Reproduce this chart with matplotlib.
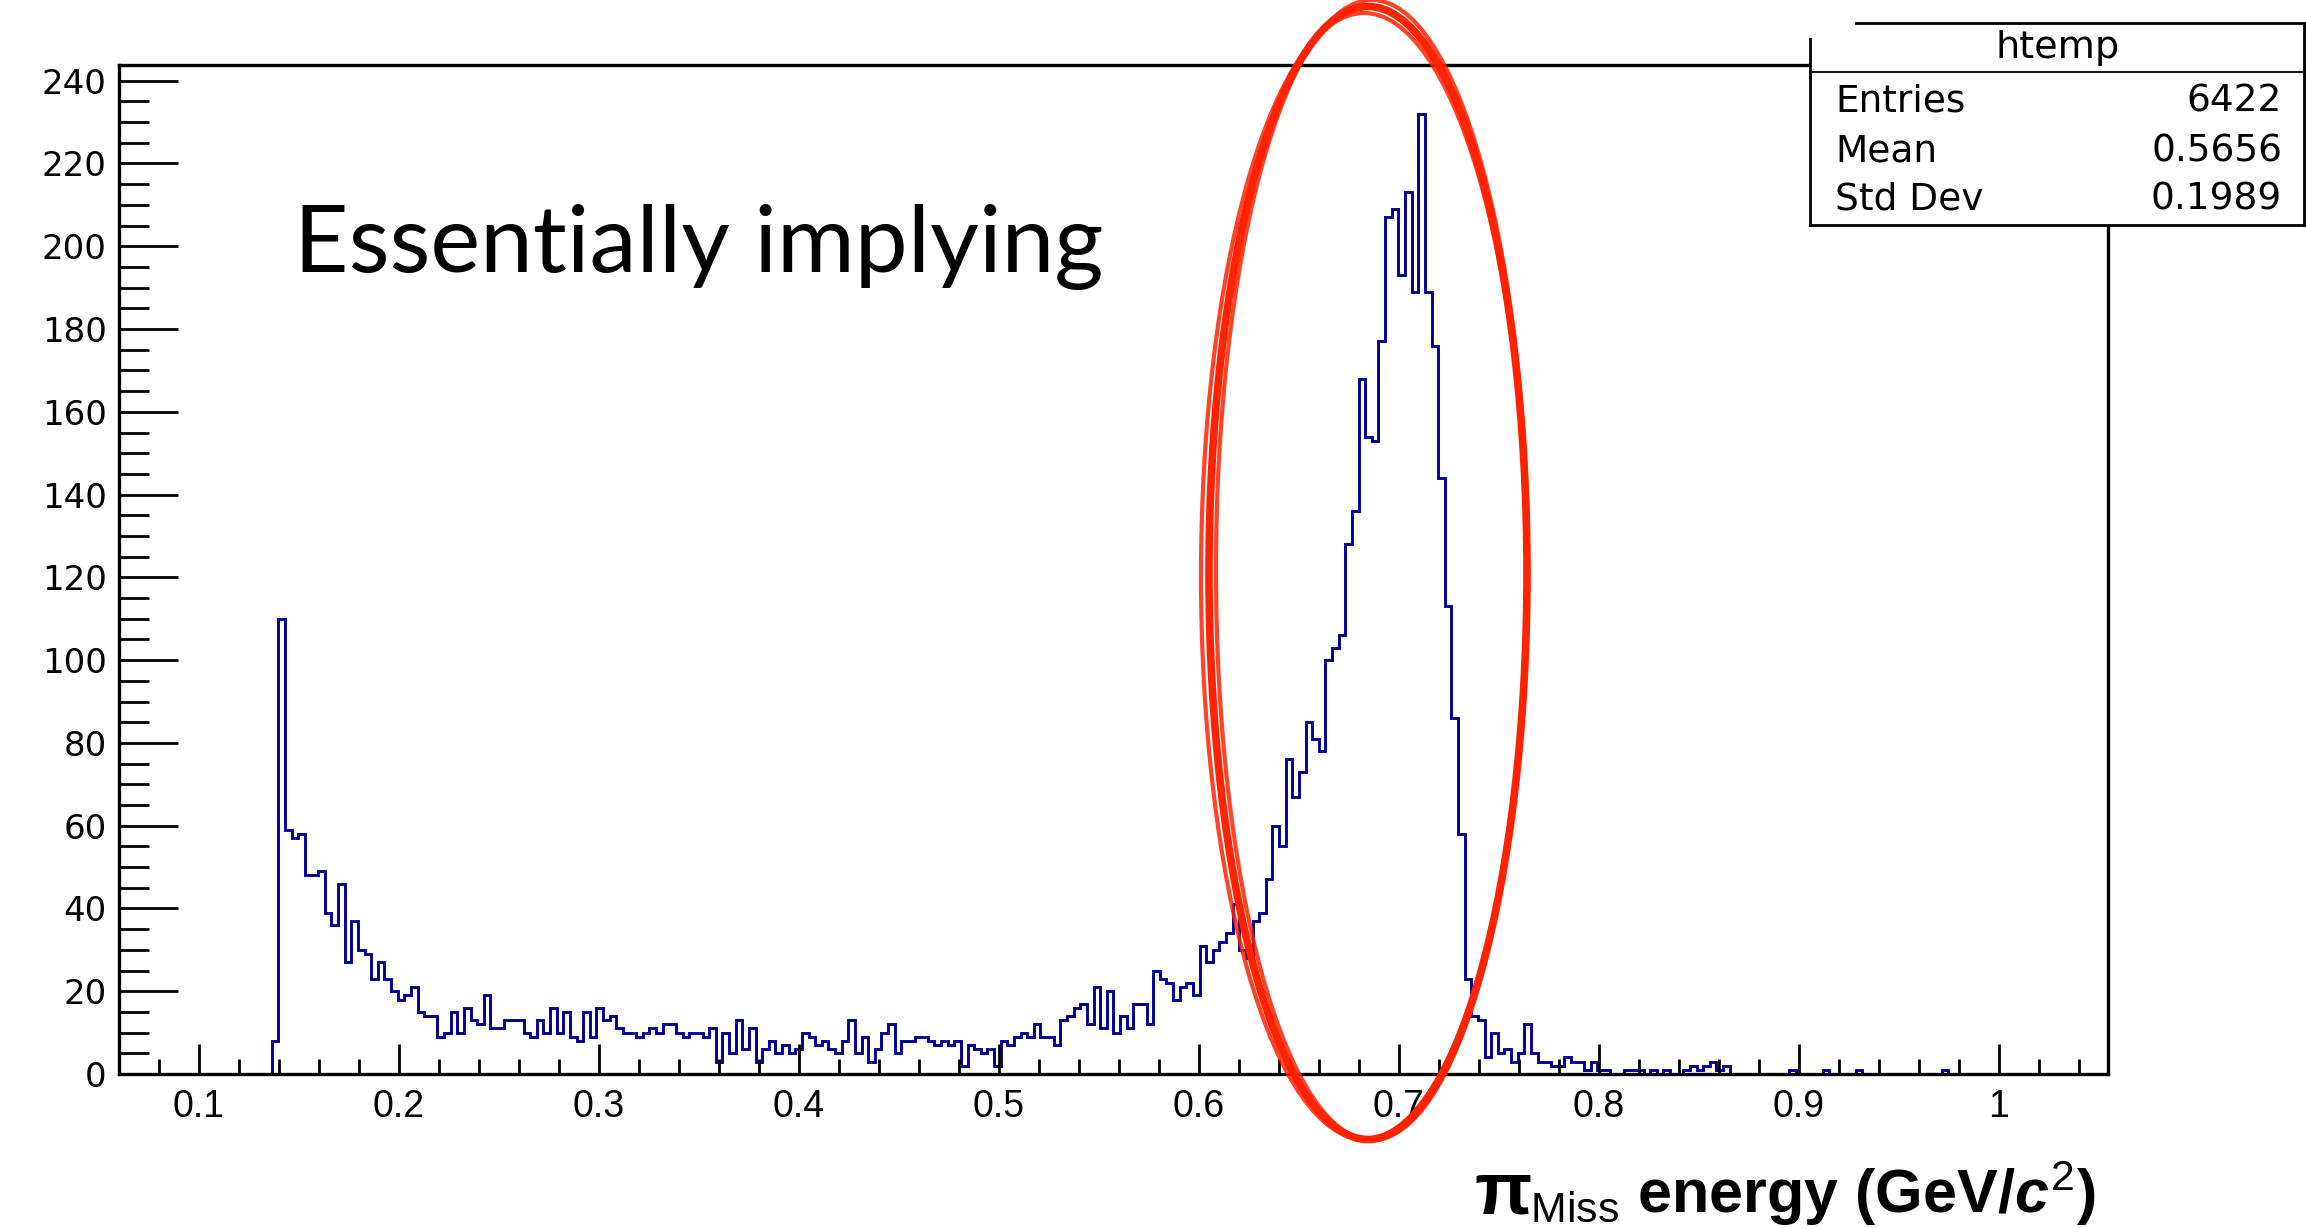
import numpy as np
import matplotlib.pyplot as plt
from matplotlib.patches import Ellipse, Polygon
from matplotlib.ticker import MultipleLocator, FixedLocator, FixedFormatter

W, H = 2306, 1228

# ROOT htemp binning: 300 bins over the axis range
x_lo, x_hi, n_bins = 0.0603, 1.0544, 300
first_bin = 23
# bin contents, starting at first_bin
counts = [8, 110, 59, 57, 58, 48, 48, 49, 39, 36,
          46, 27, 37, 30, 29, 23, 27, 23, 20, 18,
          19, 21, 15, 14, 14, 9, 10, 15, 10, 16,
          13, 12, 19, 11, 11, 13, 13, 13, 10, 9,
          13, 10, 16, 10, 15, 9, 8, 15, 9, 16,
          13, 14, 11, 10, 10, 9, 10, 11, 10, 12,
          12, 10, 9, 10, 10, 9, 11, 3, 10, 5,
          13, 6, 11, 3, 6, 8, 5, 7, 5, 6,
          10, 9, 7, 8, 6, 5, 8, 13, 5, 9,
          3, 6, 10, 12, 5, 8, 8, 9, 9, 8,
          7, 8, 7, 8, 2, 7, 6, 5, 6, 2,
          8, 7, 9, 10, 9, 12, 9, 9, 7, 13,
          14, 16, 17, 12, 21, 11, 20, 10, 14, 11,
          17, 17, 12, 25, 23, 22, 18, 21, 22, 19,
          31, 27, 30, 32, 34, 41, 30, 28, 37, 39,
          47, 60, 55, 76, 67, 73, 85, 81, 78, 100,
          103, 106, 128, 136, 168, 154, 153, 177, 207, 209,
          193, 213, 189, 232, 189, 176, 144, 113, 86, 58,
          23, 14, 13, 4, 10, 5, 6, 3, 5, 12,
          5, 3, 3, 2, 2, 4, 3, 3, 1, 3,
          1, 1, 0, 0, 1, 1, 1, 0, 1, 0,
          1, 0, 0, 1, 2, 1, 2, 3, 1, 2,
          0, 0, 0, 0, 0, 0, 0, 0, 0, 1,
          0, 0, 0, 0, 1, 0, 0, 0, 0, 1,
          0, 0, 0, 0, 0, 0, 0, 0, 0, 0,
          0, 0, 1]

x_ticks = [0.1, 0.2, 0.3, 0.4, 0.5, 0.6, 0.7, 0.8, 0.9, 1.0]
x_ticklabels = ['0.1', '0.2', '0.3', '0.4', '0.5', '0.6', '0.7', '0.8', '0.9', '1']
y_ticks = [0, 20, 40, 60, 80, 100, 120, 140, 160, 180, 200, 220, 240]
y_top = 243.8

stat_title = 'htemp'
stat_names = ['Entries', 'Mean', 'Std Dev']
stat_values = ['6422', '0.5656', '0.1989']

plt.rcParams['mathtext.fontset'] = 'custom'
plt.rcParams['mathtext.rm'] = 'Liberation Sans'
plt.rcParams['mathtext.it'] = 'Liberation Sans:italic:bold'
plt.rcParams['mathtext.bf'] = 'Liberation Sans:bold'

fig = plt.figure(figsize=(W / 100, H / 100), dpi=100)
fig.patch.set_facecolor('white')

# frame in pixels: left 119, right 2107, top 65, bottom 1074
ax = fig.add_axes([119.3 / W, 1 - 1074 / H, (2107.5 - 119.3) / W, (1074 - 65) / H])

hist = np.zeros(n_bins)
hist[first_bin:first_bin + len(counts)] = counts
edges = np.linspace(x_lo, x_hi, n_bins + 1)
ax.stairs(hist, edges, color='#000099', linewidth=2.1)

ax.set_xlim(x_lo, x_hi)
ax.set_ylim(0, y_top)
ax.xaxis.set_major_locator(FixedLocator(x_ticks))
ax.xaxis.set_major_formatter(FixedFormatter(x_ticklabels))
ax.xaxis.set_minor_locator(MultipleLocator(0.02))
ax.yaxis.set_major_locator(FixedLocator(y_ticks))
ax.yaxis.set_minor_locator(MultipleLocator(5))

ax.tick_params(axis='x', which='major', direction='in', length=21.6, width=2.0,
               pad=11, labelsize=27)
ax.tick_params(axis='x', which='minor', direction='in', length=10.8, width=2.0)
ax.tick_params(axis='y', which='major', direction='in', length=42.5, width=2.0,
               pad=9, labelsize=24.5)
ax.tick_params(axis='y', which='minor', direction='in', length=21.6, width=2.0)
for lab in ax.get_xticklabels():
    lab.set_fontfamily('Liberation Sans')
for lab in ax.get_yticklabels():
    lab.set_fontfamily('DejaVu Sans')
for sp in ax.spines.values():
    sp.set_linewidth(2.4)

# overlay in pixel coordinates for annotations
ov = fig.add_axes([0, 0, 1, 1], zorder=5)
ov.set_xlim(0, W)
ov.set_ylim(H, 0)
ov.axis('off')
ov.patch.set_alpha(0)

# stats box
ov.add_patch(Polygon([(1810, 22.7), (2306, 22.7), (2306, 225), (1810, 225)],
                     closed=True, facecolor='white', edgecolor='none'))
box_lw = 2.0
ov.plot([1856, 2306], [22.7, 22.7], color='black', lw=box_lw)
ov.plot([1810, 1810], [39, 225], color='black', lw=box_lw)
ov.plot([2304, 2304], [22.7, 225], color='black', lw=box_lw)
ov.plot([1810, 2306], [71.7, 71.7], color='black', lw=1.3)
ov.plot([1810, 2306], [225, 225], color='black', lw=box_lw)
ov.text(2058, 58, stat_title, fontsize=27.5, family='DejaVu Sans',
        ha='center', va='baseline')
row_y = [111.5, 161, 210]
for name, val, yy in zip(stat_names, stat_values, row_y):
    ov.text(1835, yy, name, fontsize=27, family='DejaVu Sans', ha='left', va='baseline')
    ov.text(2282, yy, val, fontsize=27, family='DejaVu Sans', ha='right', va='baseline')

# annotation text
ov.text(294, 272, 'Essentially implying', fontsize=68, family='Lato',
        ha='left', va='baseline', color='black')

# x axis title
ov.text(1532, 1213, 'π', fontsize=54, family='Liberation Sans', fontweight='bold',
        ha='right', va='baseline')
ov.text(2096, 1213, r'$_{\mathrm{Miss}}$ energy (GeV/$c^{2}$)', fontsize=44,
        family='Liberation Sans', fontweight='bold', ha='right', va='baseline')

# hand drawn red ellipse
red = '#ff2200'
ov.add_patch(Ellipse((1368, 573), 318, 1133, fill=False, edgecolor=red, lw=5.5))
ov.add_patch(Ellipse((1364, 576), 326, 1126, fill=False, edgecolor=red, lw=3, alpha=0.85))
ov.add_patch(Ellipse((1372, 570), 312, 1140, fill=False, edgecolor=red, lw=3, alpha=0.85))

fig.savefig('out.png', dpi=100)
